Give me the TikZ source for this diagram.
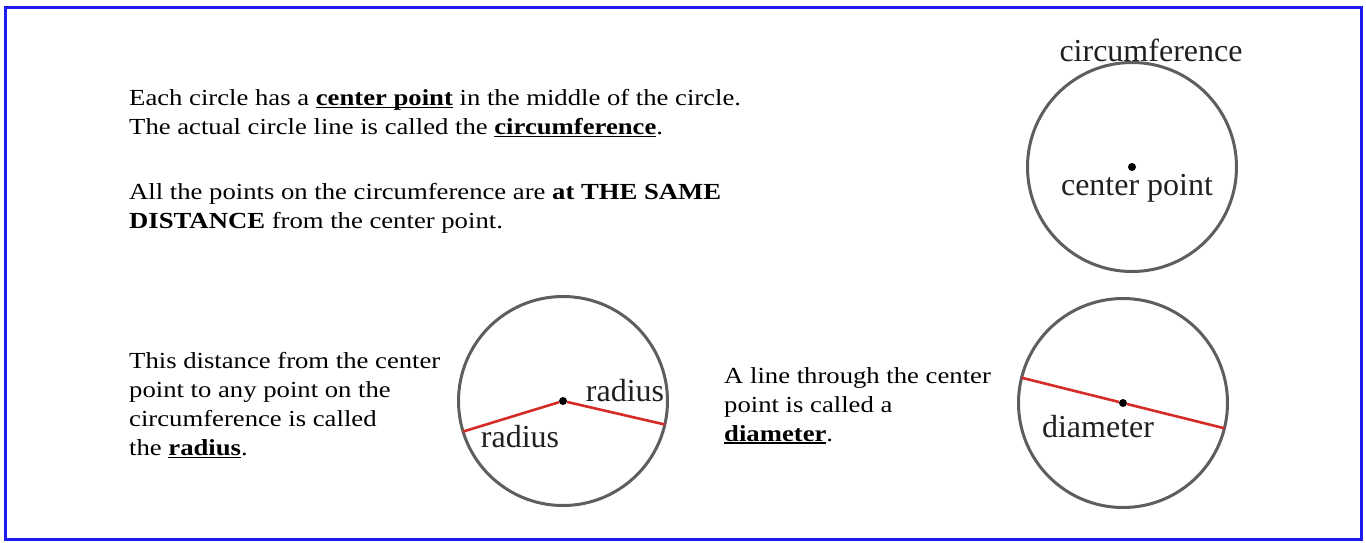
\documentclass[tikz,border=0pt]{standalone}
\usepackage{fontspec}
\setmainfont{Liberation Serif}[FakeStretch=1.16]
\newfontfamily\tagfont{Liberation Serif}
\usetikzlibrary{positioning}
\definecolor{frameblue}{HTML}{1C1CF2}
\definecolor{ringgray}{HTML}{5E5E5E}
\definecolor{chordred}{HTML}{D42B27}
\definecolor{labelink}{HTML}{231F20}
\newsavebox{\kwbox}
\newcommand{\keyword}[1]{\sbox{\kwbox}{\textbf{#1}}\rlap{\rule[-2.8pt]{\wd\kwbox}{1.5pt}}\usebox{\kwbox}}

\begin{document}
\begin{tikzpicture}[x=1pt,y=-1pt,font=\fontsize{23}{29}\selectfont,
    ring/.style={circle,draw=ringgray,line width=3pt,minimum size=209pt,inner sep=0pt,outer sep=0pt},
    centerdot/.style={circle,fill=black,minimum size=8pt,inner sep=0pt},
    chord/.style={draw=chordred,line width=2.6pt},
    para/.style={anchor=north west,align=left,inner sep=0pt},
    tag/.style={text=labelink,font=\tagfont\fontsize{32}{36}\selectfont,inner sep=0pt}]
        \useasboundingbox (0,0) rectangle (1366,542);
        \draw[frameblue,line width=3pt] (5.5,7.5) rectangle (1361.5,539.5);

        % explanations
        \node[para] (txtcenter) at (129,89) {Each circle has a \keyword{center point} in the middle of the circle.\\
          The actual circle line is called the \keyword{circumference}.};
        \node[para] (txtsame) at (129,183) {All the points on the circumference are \textbf{at THE SAME}\\
          \textbf{DISTANCE} from the center point.};
        \node[para] (txtradius) at (129,352) {This distance from the center\\
          point to any point on the\\
          circumference is called\\
          the \keyword{radius}.};
        \node[para] (txtdiam) at (724,367) {A line through the center\\
          point is called a\\
          \keyword{diameter}.};

        % circle with center point
        \node[ring] (ringtop) at (1132,167) {};
        \node[centerdot] (ctop) at (1132,167) {};
        \node[tag] (lblcirc) at (1151,50) {circumference};
        \node[tag] (lblcenter) at (1137,188) {center point};

        % circle with two radii
        \node[ring] (ringrad) at (563,401) {};
        \node[centerdot] (crad) at (563,401) {};
        \draw[chord] (crad) -- (ringrad.197.7);
        \draw[chord] (crad) -- (ringrad.347.4);
        \node[tag] (lblradr) at (625,391) {radius};
        \node[tag] (lblradl) at (520,437) {radius};

        % circle with diameter
        \node[ring] (ringdiam) at (1123,403) {};
        \node[centerdot] (cdiam) at (1123,403) {};
        \draw[chord] (ringdiam.166.5) -- (cdiam) -- (ringdiam.346.5);
        \node[tag] (lbldiam) at (1098,427) {diameter};
      \end{tikzpicture}
\end{document}
